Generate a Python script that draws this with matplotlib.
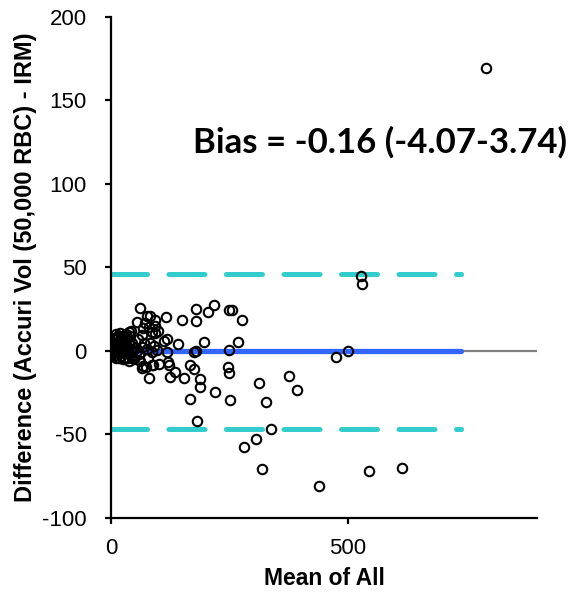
import matplotlib
matplotlib.use("Agg")
import matplotlib.pyplot as plt

plt.rcParams['font.family'] = ['Liberation Sans', 'DejaVu Sans']
plt.rcParams['axes.unicode_minus'] = False

# Scatter data: mean of all (x) vs difference (y)
mean_all = [
    793, 528, 530, 500, 476,
    313, 376, 392, 327, 338, 307, 318, 440, 545, 614, 281,
    187, 166, 220, 251, 181,
    60.6, 179, 217, 205.6, 250, 256, 277, 180, 151, 117, 75, 82, 93, 54,
    81, 87, 67, 93, 38, 66, 118, 113, 142, 197, 268, 179, 176, 249, 87,
    65.5, 82, 118, 96.5, 47, 68, 65, 73, 86, 89, 101, 120, 123, 136, 166,
    175, 125, 80, 154, 187, 247, 249,
    70, 75, 90, 60, 78, 100, 92, 72, 58, 62, 55, 50,
    3, 5, 6, 8, 10, 12, 4, 7, 9, 11, 13, 15, 16, 18, 20, 22, 24, 25, 27, 28,
    30, 32, 33, 35, 36, 38, 40, 42, 44, 45, 14, 19, 23, 26, 17, 29, 31, 2, 1,
    6, 10, 21, 34, 41, 46, 48, 37, 43,
]
difference = [
    169.5, 45, 40, 0, -3.4,
    -19.4, -14.8, -23.5, -30.7, -46.7, -52.9, -70.9, -80.6, -71.9, -70.3, -57.3,
    -21.8, -28.7, -24.4, -29.5, -41.9,
    25.6, 25, 27.4, 23.2, 24.4, 24.4, 18.4, 18.2, 18.8, 20.2, 21, 21, 18.6, 17.2,
    14.4, 11.2, 13.8, 10.6, 11.4, 9.6, 7.2, 6.2, 4.4, 5.4, 5.2, -0.2, -0.6, 0.4, -0.6,
    2.6, 4.6, -0.6, 0.6, -4.4, -8.8, -10.4, -9.6, -8.4, -8.4, -7.8, -6.8, -8.4, -12.4, -8.6,
    -10.6, -15.4, -16.4, -16, -17, -9.8, -13.4,
    5, 1, 3, -2, -4, 12, 15, 17, 7, -6, 0, 2,
    3, 1, 5, 8, 10, 7, -2, -3, 0, 2, 4, -1, 6, 3, 0, -3, 2, 5, 8, -1,
    3, 6, 0, -4, 2, 4, -2, 1, 5, -3, 9, 11, 9, -5, -4, -4, 10, 0, 2,
    -1, -4, 6, 8, 9, 0, -5, -6, 12,
]

bias = -0.16
upper_loa = 46.3
lower_loa = -46.7
line_x = [0, 740]
bias_label = "Bias = -0.16 (-4.07-3.74)"

fig = plt.figure(figsize=(5.71, 5.95), dpi=100)
ax = fig.add_axes([111/571, 77/595, 426/571, 501/595])

ax.axhline(0, color='#808080', lw=1.6, zorder=1)
ax.plot(line_x, [bias, bias], color='#3366FF', lw=3.8, solid_capstyle='round', zorder=2)
for v in (upper_loa, lower_loa):
    ax.plot(line_x, [v, v], color='#33CCCC', lw=3.6, dashes=(7.2, 4.3),
            dash_capstyle='round', zorder=2)

ax.plot(mean_all, difference, linestyle='none', marker='o', markersize=6.8,
        markerfacecolor='none', markeredgecolor='black', markeredgewidth=1.5, zorder=3)

ax.set_xlim(0, 900)
ax.set_ylim(-100, 200)
ax.set_xticks([0, 500])
ax.set_yticks([-100, -50, 0, 50, 100, 150, 200])

for s in ('top', 'right'):
    ax.spines[s].set_visible(False)
for s in ('left', 'bottom'):
    ax.spines[s].set_linewidth(1.6)
ax.tick_params(axis='both', labelsize=16, width=1.6, length=4.5, direction='out')
ax.tick_params(axis='y', pad=13)
ax.tick_params(axis='x', pad=10)

ax.set_xlabel('Mean of All', fontsize=16.5, fontweight='bold', labelpad=6)
ax.set_ylabel('Difference (Accuri Vol (50,000 RBC) - IRM)', fontsize=17,
              fontweight='bold', labelpad=4)

ax.text(173, 125, bias_label, fontsize=25, fontweight='bold', ha='left', va='center',
        family=['Lato', 'DejaVu Sans'])

fig.savefig('out.png', dpi=100)
